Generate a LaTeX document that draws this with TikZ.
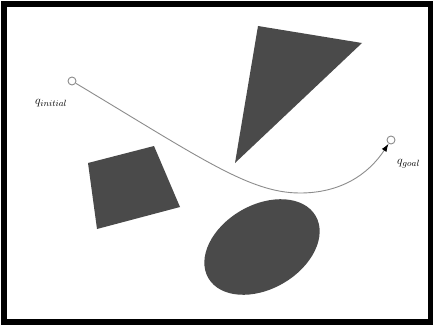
\documentclass[tikz,border=0pt]{standalone}
\usetikzlibrary{arrows.meta}
\definecolor{obst}{HTML}{4A4A4A}
\definecolor{pathgray}{HTML}{8C8C8C}
\tikzset{
  obstacle/.style={fill=obst, draw=none},
  endpt/.style={circle, draw=pathgray, fill=white, line width=0.9pt, minimum size=8pt, inner sep=0pt},
  qlabel/.style={anchor=base west, inner sep=0pt, font=\fontsize{13}{15}\selectfont},
  route/.style={draw=pathgray, line width=0.9pt, -{Latex[black,length=8pt,width=5.5pt]}},
  frame/.style={draw=black, line width=5.5pt}
}
\begin{document}
\begin{tikzpicture}[x=1pt,y=1pt]
\useasboundingbox (0,0) rectangle (433,330);
\fill[white] (0,0) rectangle (433,330);
\draw[frame] (4,8) rectangle (431,326);
% obstacles
\path[obstacle] (258,304) -- (362,287) -- (235,167) -- cycle;
\path[obstacle] (88,167) -- (154,184) -- (180,123) -- (97,101) -- cycle;
\path[obstacle] (262,83) ellipse [x radius=62, y radius=42, rotate=30];
% endpoints
\node[endpt] (init) at (72,249) {};
\node[endpt] (goal) at (391,190) {};
\coordinate (m) at (300,137);
\draw[route] (init) .. controls (202,171) and (250,137) .. (m)
                    .. controls (340,137) and (368,155) .. (goal);
% labels
\node[qlabel] (linit) at (35,226) {$q_{initial}$};
\node[qlabel] (lgoal) at (397,166) {$q_{goal}$};
\end{tikzpicture}
\end{document}
